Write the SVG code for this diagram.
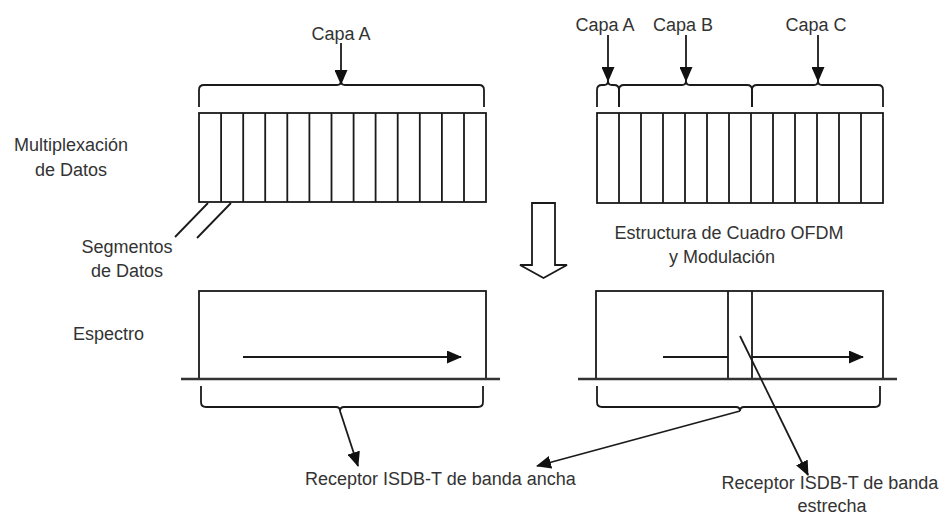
<svg xmlns="http://www.w3.org/2000/svg" width="949" height="516" viewBox="0 0 949 516">
<defs>
<style>
text{font-family:"Liberation Sans",Arial,sans-serif;font-size:18px;fill:#333}
.ln{stroke:#1a1a1a;stroke-width:1.8;fill:none}
.box{stroke:#1a1a1a;stroke-width:1.8;fill:#fff}
.base{stroke:#333;stroke-width:2.6;fill:none}
.arr{stroke:#1a1a1a;stroke-width:1.8;fill:none;marker-end:url(#ah)}
</style>
<marker id="ah" viewBox="0 0 15 13" refX="14" refY="6.5" markerWidth="15" markerHeight="13" markerUnits="userSpaceOnUse" orient="auto">
<path d="M0,0 L15,6.5 L0,13 Z" fill="#111"/>
</marker>
</defs>
<rect width="949" height="516" fill="#fff"/>

<g id="labels">
<text x="71" y="151" text-anchor="middle">Multiplexación</text>
<text x="71" y="176" text-anchor="middle">de Datos</text>
<text x="127" y="253" text-anchor="middle">Segmentos</text>
<text x="127" y="277" text-anchor="middle">de Datos</text>
<text x="73" y="340">Espectro</text>
<text x="729" y="239" text-anchor="middle">Estructura de Cuadro OFDM</text>
<text x="722" y="263" text-anchor="middle">y Modulación</text>
</g>

<g id="capaA-left">
<text x="341" y="40" text-anchor="middle">Capa A</text>
</g>
<g id="capaA-right">
<text x="605" y="31" text-anchor="middle">Capa A</text>
</g>
<g id="capaB">
<text x="683" y="31" text-anchor="middle">Capa B</text>
</g>
<g id="capaC">
<text x="816" y="31" text-anchor="middle">Capa C</text>
</g>

<g id="segments-left">
<rect class="box" x="199" y="113" width="287" height="89"/>
<path class="ln" d="M221.1,113V202M243.2,113V202M265.2,113V202M287.3,113V202M309.4,113V202M331.5,113V202M353.6,113V202M375.6,113V202M397.7,113V202M419.8,113V202M441.9,113V202M464,113V202"/>
</g>

<g id="segments-right">
<rect class="box" x="597" y="113" width="286" height="90"/>
<path class="ln" d="M619,113V203M641,113V203M663,113V203M685,113V203M707,113V203M729,113V203M751,113V203M773,113V203M795,113V203M817,113V203M839,113V203M861,113V203"/>
</g>

<g id="block-arrow">
<polygon class="ln" points="532,203 555,203 555,265 567,265 543.5,278 520,265 532,265"/>
</g>

<g id="spectrum-left">
<rect class="box" x="199" y="291" width="287" height="88"/>
</g>
<g id="spectrum-right">
<rect class="box" x="596" y="291" width="287" height="88"/>
<path class="ln" d="M728,291V379M752,291V379"/>
</g>

<g id="receiver-wide">
<text x="305" y="485">Receptor ISDB-T de banda ancha</text>
</g>
<g id="receiver-narrow">
<text x="830" y="489" text-anchor="middle">Receptor ISDB-T de banda</text>
<text x="832" y="512" text-anchor="middle">estrecha</text>
</g>

<g id="connectors">
<path class="ln" d="M199,107V90Q199,85 204,85H337Q341,85 341,81Q341,85 345,85H479Q484,85 484,90V107"/>
<path class="ln" d="M597,107V90Q597,85 602,85H604Q608,85 608,81Q608,85 612,85H614Q619,85 619,90V107"/>
<path class="ln" d="M619,107V90Q619,85 624,85H682Q686,85 686,81Q686,85 690,85H747Q752,85 752,90V107"/>
<path class="ln" d="M752,107V90Q752,85 757,85H814Q818,85 818,81Q818,85 822,85H878Q883,85 883,90V107"/>
<line class="arr" x1="341" y1="43" x2="341" y2="84"/>
<line class="arr" x1="608" y1="35" x2="608" y2="81"/>
<line class="arr" x1="686" y1="35" x2="686" y2="81"/>
<line class="arr" x1="818" y1="35" x2="818" y2="81"/>
<line class="ln" x1="208" y1="203" x2="175" y2="237"/>
<line class="ln" x1="231" y1="203" x2="197" y2="238"/>
<line class="base" x1="181" y1="379" x2="500" y2="379"/>
<line class="base" x1="578" y1="379" x2="897" y2="379"/>
<line class="arr" x1="243" y1="357" x2="461" y2="357"/>
<line class="ln" x1="663" y1="357" x2="728" y2="357"/>
<line class="arr" x1="752" y1="357" x2="863" y2="357"/>
<path class="ln" d="M201,386V402Q201,407 206,407H336Q340,407 340,411Q340,407 344,407H478Q483,407 483,402V386"/>
<path class="ln" d="M597,386V402Q597,407 602,407H736Q740,407 740,411Q740,407 744,407H875Q880,407 880,402V386"/>
<line class="arr" x1="340" y1="411" x2="358" y2="466"/>
<line class="arr" x1="740" y1="411" x2="537" y2="466"/>
<line class="arr" x1="740" y1="336" x2="808" y2="475"/>
</g>
</svg>
